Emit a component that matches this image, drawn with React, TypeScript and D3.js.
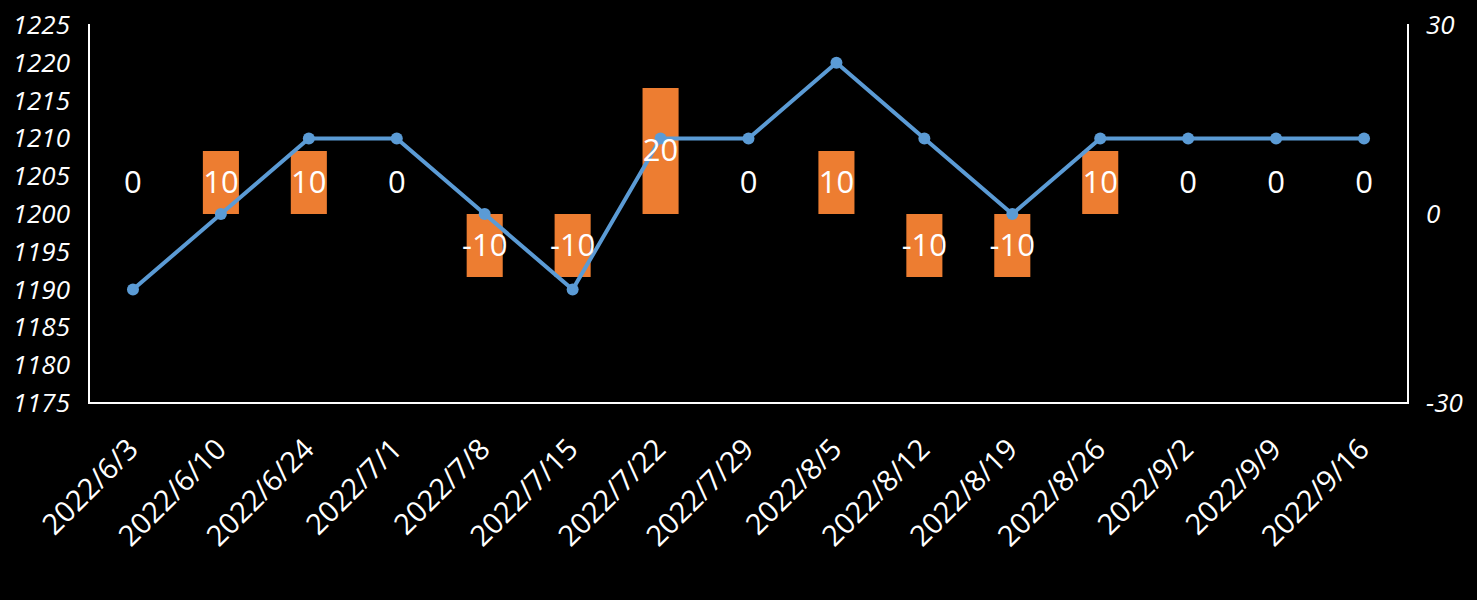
import React from "react";
import * as d3 from "d3";

const categories = [
  "2022/6/3", "2022/6/10", "2022/6/24", "2022/7/1", "2022/7/8", "2022/7/15", "2022/7/22",
  "2022/7/29", "2022/8/5", "2022/8/12", "2022/8/19", "2022/8/26", "2022/9/2", "2022/9/9", "2022/9/16",
];
const lineValues = [1190, 1200, 1210, 1210, 1200, 1190, 1210, 1210, 1220, 1210, 1200, 1210, 1210, 1210, 1210];
const barValues = [0, 10, 10, 0, -10, -10, 20, 0, 10, -10, -10, 10, 0, 0, 0];
const leftTicks = [1175, 1180, 1185, 1190, 1195, 1200, 1205, 1210, 1215, 1220, 1225];
const rightTicks = [-30, 0, 30];

const W = 1477;
const H = 600;
const M = { left: 89, right: 1408, top: 25, bottom: 403 };
const FONT = "'Open Sans', 'Liberation Sans', sans-serif";
const BLUE = "#5B9BD5";
const ORANGE = "#ED7D31";

export default function App() {
  const x = d3.scaleBand<string>().domain(categories).range([M.left, M.right]).padding(0);
  const yL = d3.scaleLinear().domain([1175, 1225]).range([M.bottom, M.top]);
  const yR = d3.scaleLinear().domain([-30, 30]).range([M.bottom, M.top]);
  const bw = x.bandwidth();
  const barW = bw * 0.41;
  const cx = (c: string) => (x(c) as number) + bw / 2;

  const line = d3
    .line<number>()
    .x((_, i) => cx(categories[i]))
    .y((d) => yL(d));

  return (
    <div style={{ position: "fixed", left: 0, top: 0, width: W, height: H, background: "#000" }}>
      <svg width={W} height={H} style={{ display: "block", background: "#000" }}>
        {/* bars */}
        {barValues.map((v, i) => {
          const c = categories[i];
          const y0 = yR(0);
          const y1 = yR(v);
          return v === 0 ? null : (
            <rect
              key={"b" + i}
              x={cx(c) - barW / 2}
              y={Math.min(y0, y1)}
              width={barW}
              height={Math.abs(y1 - y0)}
              fill={ORANGE}
            />
          );
        })}
        {/* axes */}
        <line x1={M.left} x2={M.left} y1={M.top - 1} y2={M.bottom} stroke="#fff" strokeWidth={2} />
        <line x1={M.right} x2={M.right} y1={M.top - 1} y2={M.bottom} stroke="#fff" strokeWidth={2} />
        <line x1={M.left - 1} x2={M.right + 1} y1={M.bottom} y2={M.bottom} stroke="#fff" strokeWidth={2} />
        {/* line */}
        <path d={line(lineValues) || ""} fill="none" stroke={BLUE} strokeWidth={4} strokeLinejoin="round" />
        {lineValues.map((v, i) => (
          <circle key={"m" + i} cx={cx(categories[i])} cy={yL(v)} r={6} fill={BLUE} />
        ))}
        {/* bar labels */}
        {barValues.map((v, i) => (
          <text
            key={"l" + i}
            x={cx(categories[i])}
            y={yR(v === 0 ? 5 : v / 2) - 2}
            fill="#fff"
            fontFamily={FONT}
            fontSize={31}
            textAnchor="middle"
            dominantBaseline="central"
          >
            {v}
          </text>
        ))}
        {/* left ticks */}
        {leftTicks.map((t) => (
          <text
            key={"yl" + t}
            x={70}
            y={yL(t) - 1}
            fill="#fff"
            fontFamily={FONT}
            fontStyle="italic"
            fontSize={26}
            textAnchor="end"
            dominantBaseline="central"
          >
            {t}
          </text>
        ))}
        {/* right ticks */}
        {rightTicks.map((t) => (
          <text
            key={"yr" + t}
            x={1426}
            y={yR(t) - 1}
            fill="#fff"
            fontFamily={FONT}
            fontStyle="italic"
            fontSize={26}
            textAnchor="start"
            dominantBaseline="central"
          >
            {t}
          </text>
        ))}
        {/* x labels */}
        {categories.map((c) => {
          const ax = cx(c) + 7;
          const ay = 451;
          return (
            <text
              key={"x" + c}
              x={ax}
              y={ay}
              transform={`rotate(-45, ${ax}, ${ay})`}
              fill="#fff"
              fontFamily={FONT}
              fontSize={29}
              textAnchor="end"
            >
              {c}
            </text>
          );
        })}
      </svg>
    </div>
  );
}
